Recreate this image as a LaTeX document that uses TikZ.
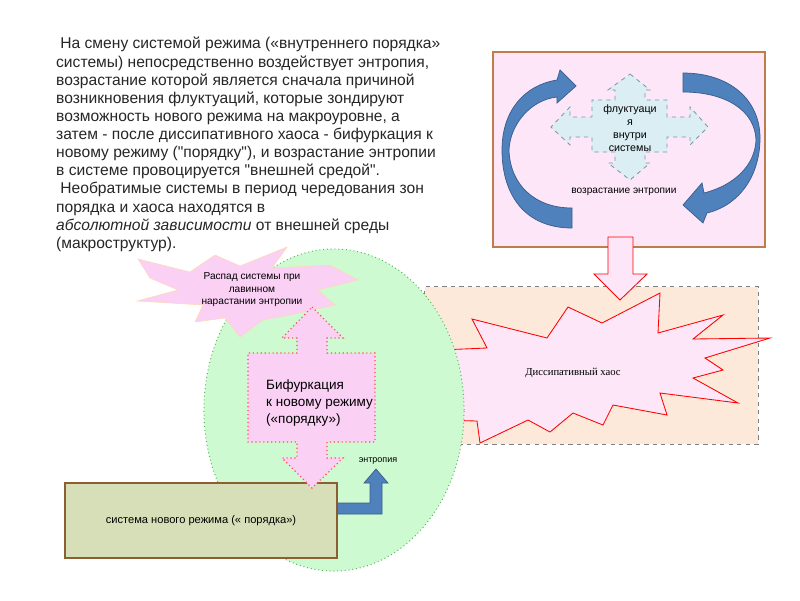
\documentclass[tikz,border=0pt]{standalone}
\usepackage{fontspec}
\setmainfont{Liberation Sans}
\newfontfamily\myserif{Liberation Serif}
\usetikzlibrary{calc, shapes, arrows}
\usepackage{xcolor}
\definecolor{pinkfill}{RGB}{252,230,248}
\definecolor{boxbrown}{RGB}{190,125,75}
\definecolor{arrowblue}{RGB}{79,129,189}
\definecolor{arrowdark}{RGB}{56,93,138}
\definecolor{fluctfill}{RGB}{218,238,243}
\definecolor{fluctline}{RGB}{125,150,170}
\definecolor{peachfill}{RGB}{253,233,217}
\definecolor{greenfill}{RGB}{206,250,210}
\definecolor{greenline}{RGB}{90,180,90}
\definecolor{starfill}{RGB}{250,208,245}
\definecolor{orderfill}{RGB}{215,223,185}
\definecolor{orderline}{RGB}{140,95,50}

\begin{document}
\begin{tikzpicture}[x=0.025cm,y=-0.025cm]
				\newcommand{\myfonttext}{
					\fontsize{11.1}{12.9}\selectfont
				}\newcommand{\myfontsmall}{
					\fontsize{7.2}{8.9}\selectfont
				}\newcommand{\myfontbig}{
					\fontsize{9.6}{12.2}\selectfont
				}%Page frame
				\useasboundingbox (0,0) rectangle (800,600);
				%The text at the top left
				\node [anchor=north west, align=left, inner sep=0, font=\myfonttext, text=black!85] (intro) at (52,37) {%
					\hspace{3pt}На смену системой режима («внутреннего порядка»\\
					системы) непосредственно воздействует энтропия,\\
					возрастание которой является сначала причиной\\
					возникновения флуктуаций, которые зондируют\\
					возможность нового режима на макроуровне, а\\
					затем - после диссипативного хаоса - бифуркация к\\
					новому режиму (\textquotedbl порядку\textquotedbl), и возрастание энтропии\\
					в системе провоцируется \textquotedbl внешней средой\textquotedbl.\\
					\hspace{3pt}Необратимые системы в период чередования зон\\
					порядка и хаоса находятся в\\
					\textit{абсолютной зависимости} от внешней среды\\
					(макроструктур).};
				%Box with the fluctuations
				\node [draw=boxbrown, fill=pinkfill, line width=0.8pt, minimum width=6.8cm, minimum height=4.875cm, inner sep=0] (loopbox) at (629,149.5) {};
				%Left curved arrow
				\filldraw [fill=arrowblue, draw=arrowdark, line width=0.5pt] (572,228) .. controls (525,228) and (502,195) .. (502,150) .. controls (502,110) and (525,85) .. (557,80) -- (560,70) -- (576,86) -- (557,103) -- (557,97) .. controls (530,100) and (510,125) .. (509,150) .. controls (510,185) and (535,208) .. (572,208) -- cycle;
				%Right curved arrow
				\filldraw [fill=arrowblue, draw=arrowdark, line width=0.5pt] (683,73) .. controls (730,73) and (760,100) .. (760,138) .. controls (760,175) and (740,205) .. (707,213) -- (703,223) -- (683,205) -- (702,183) -- (704,193) .. controls (735,185) and (755,165) .. (756,140) .. controls (755,110) and (725,92) .. (683,92) -- cycle;
				%Four way arrow
				\filldraw [fill=fluctfill, draw=fluctline, dashed, line width=0.6pt] (630,74) -- (650,90) -- (645,90) -- (645,100) -- (667,100) -- (667,117) -- (690,117) -- (690,107) -- (708,127) -- (690,145) -- (690,137) -- (667,137) -- (667,152) -- (645,152) -- (645,163) -- (650,163) -- (630,180) -- (608,163) -- (615,163) -- (615,152) -- (592,152) -- (592,137) -- (570,137) -- (570,145) -- (551,127) -- (570,107) -- (570,117) -- (592,117) -- (592,100) -- (615,100) -- (615,90) -- (608,90) -- cycle;
				\node [align=center, inner sep=0, font=\fontsize{7.6}{9.2}\selectfont] (fluct) at (630,128) {флуктуаци\\я\\внутри\\системы};
				\node [inner sep=0, font=\myfontsmall] (growth) at (622,192) {возрастание энтропии};
				%Box with the chaos
				\node [draw=gray, fill=peachfill, dashed, line width=0.7pt, minimum width=8.325cm, minimum height=3.925cm, inner sep=0] (chaosbox) at (591.5,365.5) {};
				\filldraw [fill=pinkfill, draw=red, line width=0.6pt] (472,319) -- (547,338) -- (568,307) -- (602,323) -- (660,293) -- (658,333) -- (723,315) -- (693,339) -- (770,338) -- (705,358) -- (723,370) -- (693,378) -- (738,403) -- (660,393) -- (667,415) -- (613,405) -- (603,425) -- (573,413) -- (550,432) -- (528,420) -- (480,443) -- (477,421) -- (440,420) -- (440,350) -- (487,348) -- cycle;
				\node [inner sep=0, font=\myserif\fontsize{7.6}{9}\selectfont] (chaos) at (573,373) {Диссипативный хаос};
				%Arrow from the loop down to the chaos
				\filldraw [fill=pinkfill, draw=red, line width=0.6pt] (608,237) -- (633,237) -- (633,274) -- (647,274) -- (620,300) -- (594,274) -- (608,274) -- cycle;
				%Oval of the new order
				\filldraw [fill=greenfill, draw=greenline, dotted, line width=0.7pt] (334,410) ellipse [x radius=3.25cm, y radius=4.025cm];
				%Box of the new system
				\node [draw=orderline, fill=orderfill, line width=0.8pt, minimum width=6.8cm, minimum height=1.875cm, inner sep=0, font=\fontsize{7.9}{9}\selectfont] (neworder) at (201,520.5) {система нового режима (« порядка»)};
				%Bent arrow of the entropy
				\filldraw [fill=arrowblue, draw=arrowdark, line width=0.5pt] ($(neworder.east)+(0,-17.5)$) -- (370,503) -- (370,483) -- (364,483) -- (376,469) -- (388,483) -- (382,483) -- (382,514) -- ($(neworder.east)+(0,-6.5)$) -- cycle;
				\node [inner sep=0, font=\fontsize{6.4}{8}\selectfont] (entropy) at (378,461) {энтропия};
				%Star of the decay
				\filldraw [fill=starfill, draw=orange!30, line width=0.4pt] (138,259) -- (190,272) -- (215,255) -- (240,266) -- (287,247) -- (272,268) -- (330,265) -- (358,280) -- (318,290) -- (335,305) -- (290,315) -- (263,320) -- (240,337) -- (225,318) -- (195,322) -- (203,305) -- (137,301) -- (178,290) -- (150,278) -- cycle;
				\node [align=center, inner sep=0, font=\myfontsmall] (decay) at (250,290) {Распад системы при\\лавинном\\нарастании энтропии};
				%Double arrow of the bifurcation
				\filldraw [fill=starfill, draw=red!70, dotted, line width=0.8pt] (312,307) -- (343,338) -- (327,338) -- (327,353) -- (375,353) -- (375,442) -- (327,442) -- (327,458) -- (343,458) -- (312,488) -- (282,458) -- (297,458) -- (297,442) -- (248,442) -- (248,353) -- (297,353) -- (297,338) -- (282,338) -- cycle;
				\node [anchor=west, align=left, inner sep=0, font=\myfontbig] (bifurc) at (262,403) {Бифуркация\\к новому режиму\\(«порядку»)};
\end{tikzpicture}
\end{document}
